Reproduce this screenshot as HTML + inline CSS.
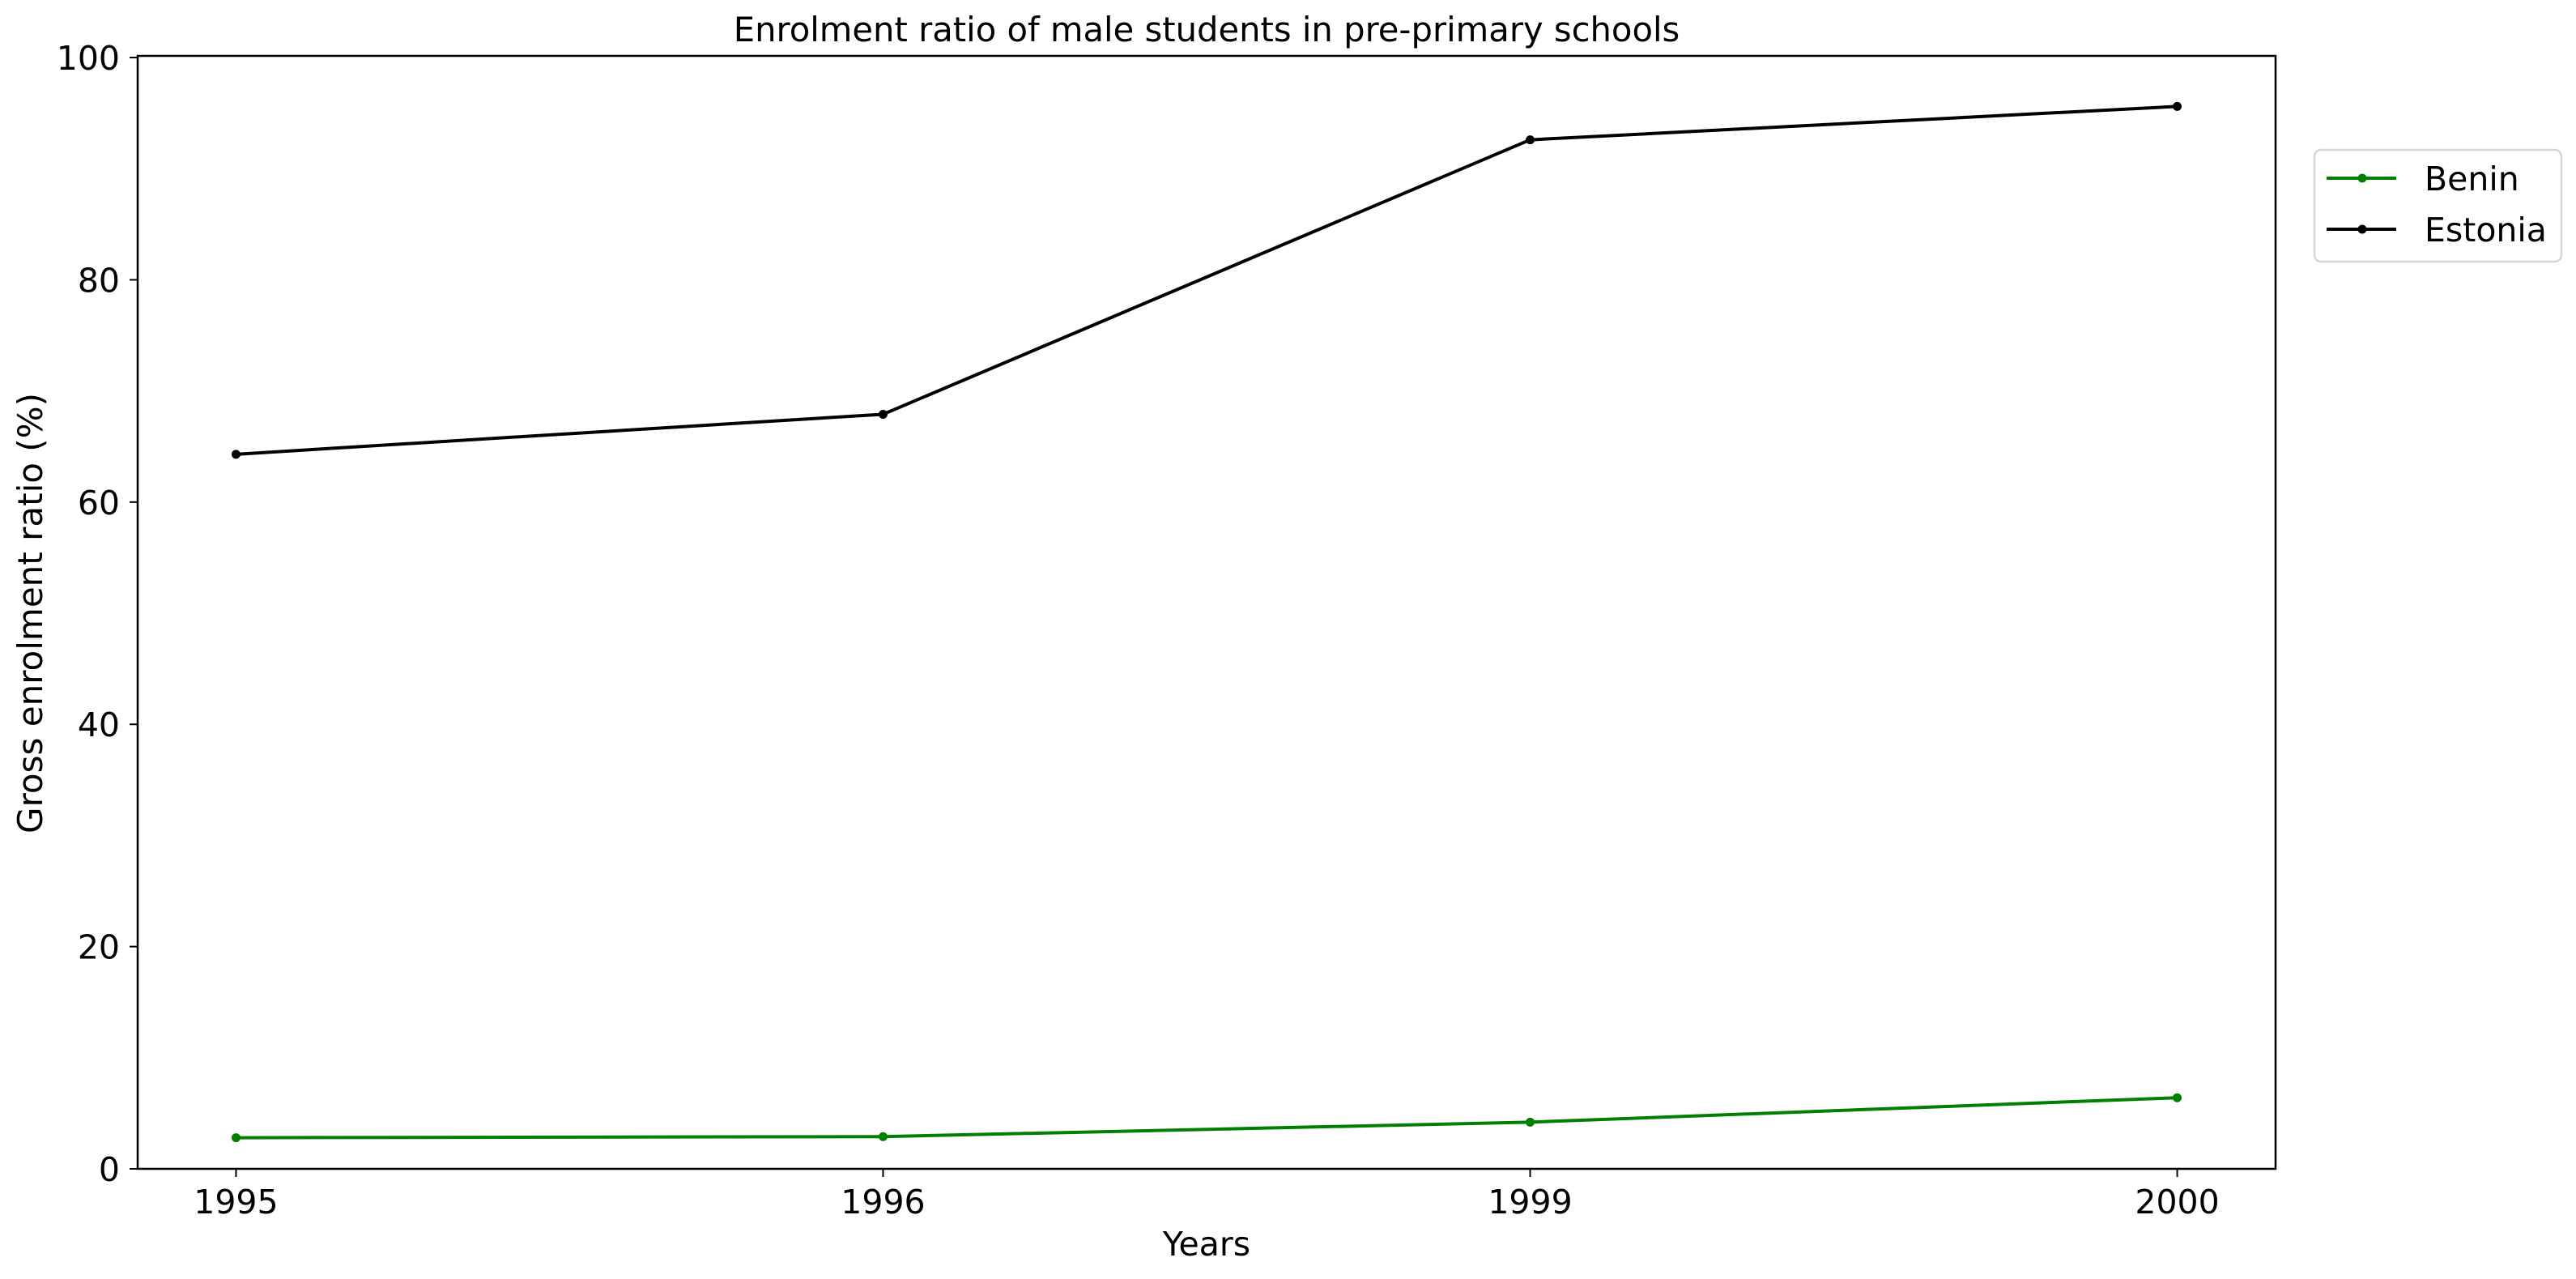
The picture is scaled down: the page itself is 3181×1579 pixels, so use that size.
<!DOCTYPE html>
<html><head><meta charset="utf-8"><style>
html,body{margin:0;padding:0;background:#fff;}
svg{display:block;font-family:"DejaVu Sans","Liberation Sans",sans-serif;}
</style></head><body>
<svg id="chart" width="3181" height="1579" viewBox="0 0 3181 1579" xmlns="http://www.w3.org/2000/svg">
<rect width="3181" height="1579" fill="#fff"/>
<text x="1490" y="51" font-size="41.7" text-anchor="middle">Enrolment ratio of male students in pre-primary schools</text>
<text x="1490" y="1550" font-size="41" text-anchor="middle">Years</text>
<text transform="translate(52,757) rotate(-90)" font-size="42" text-anchor="middle">Gross enrolment ratio (%)</text>
<g id="ticks"></g>
<g id="series"></g>
<rect x="170" y="69" width="2640" height="1374" fill="none" stroke="#000" stroke-width="2.5"/>
<g>
<rect x="2858" y="185" width="305" height="138" rx="8" fill="#fff" stroke="#d6d6d6" stroke-width="2.5"/>
<g>
<line x1="2873" y1="220" x2="2959" y2="220" stroke="#008000" stroke-width="4"/>
<circle cx="2917" cy="220" r="5.5" fill="#008000"/>
<text x="2994" y="235" font-size="41">Benin</text></g>
<g>
<line x1="2873" y1="283" x2="2959" y2="283" stroke="#000" stroke-width="4"/>
<circle cx="2917" cy="283" r="5.5" fill="#000"/>
<text x="2994" y="298" font-size="41">Estonia</text></g>
</g>
</svg>
<script>
const categories = ["1995","1996","1999","2000"];
const benin = [2.8, 2.9, 4.2, 6.4];
const estonia = [64.3, 67.9, 92.6, 95.6];
const yTicks = [0,20,40,60,80,100];
const NS="http://www.w3.org/2000/svg";
const L=170,R=2810,T=69,B=1443,xmin=-0.152,xmax=3.152,ymin=0,ymax=100.15;
const xs=i=>L+(i-xmin)/(xmax-xmin)*(R-L);
const ys=v=>B-(v-ymin)/(ymax-ymin)*(B-T);
function mk(tag,attrs,parent){const e=document.createElementNS(NS,tag);for(const k in attrs)e.setAttribute(k,attrs[k]);parent.appendChild(e);return e;}
const tg=document.getElementById('ticks');
yTicks.forEach(v=>{
  const l=mk('line',{x1:L-10,x2:L,y1:ys(v),y2:ys(v),stroke:'#000','stroke-width':2},tg);
  
  
  const t=mk('text',{x:L-22,y:ys(v)+15,'font-size':41,'text-anchor':'end'},tg);
  t.textContent=v;
  
  
});
categories.forEach((c,i)=>{
  const l=mk('line',{x1:xs(i),x2:xs(i),y1:B,y2:B+10,stroke:'#000','stroke-width':2},tg);
  
  
  const t=mk('text',{x:xs(i),y:B+55,'font-size':41,'text-anchor':'middle'},tg);
  t.textContent=c;
  
  
});
const sg=document.getElementById('series');
function draw(vals,color,name){
  const g=mk('g',{},sg);
  
  
  const p=mk('polyline',{points:vals.map((v,i)=>xs(i)+','+ys(v)).join(' '),fill:'none',stroke:color,'stroke-width':4,'stroke-linejoin':'round'},g);
  
  
  vals.forEach((v,i)=>{
    const c=mk('circle',{cx:xs(i),cy:ys(v),r:5.5,fill:color},g);
    
    
  });
}
draw(benin,'#008000','benin');
draw(estonia,'#000000','estonia');
</script>
</body></html>
